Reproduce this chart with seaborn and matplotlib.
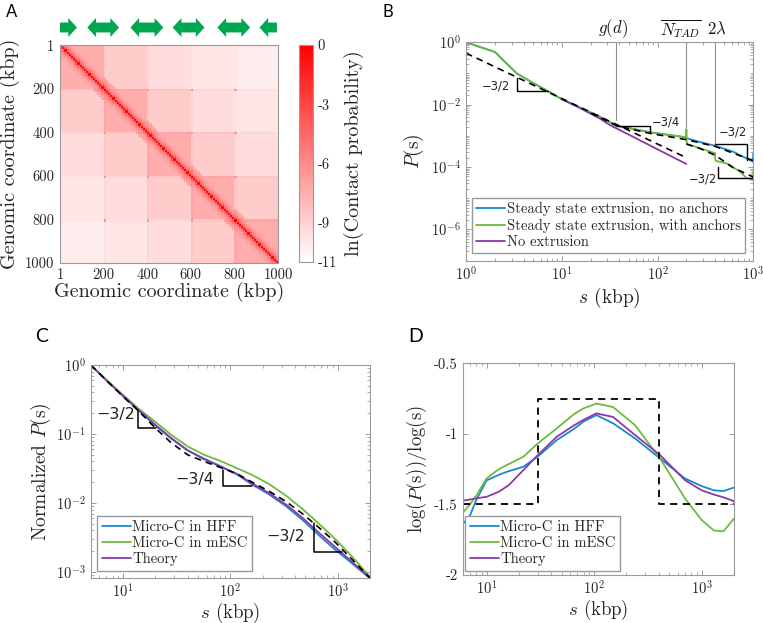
import numpy as np
import pandas as pd
import seaborn as sns
import matplotlib.pyplot as plt
from matplotlib.colors import LinearSegmentedColormap
from matplotlib.patches import Polygon
from matplotlib.ticker import LogLocator, NullFormatter

W, H = 763, 623

# ---------------- panel A : contact map (10 kbp bins) ----------------
tad_edges = [0, 200, 400, 600, 800, 1000]
block_ln = [-7.4, -8.8, -9.5, -9.9, -10.2]          # by TAD separation
diag_ln = [-0.5, -4.3, -5.7, -6.4, -6.9, -7.2]
corner_ln = -6.3
stripe_gain = 0.3
coord_ticks = [1, 200, 400, 600, 800, 1000]
cbar_ticks = [0, -3, -6, -9, -11]
arrow_start = [0, 125, 323, 517, 722, 915]
arrow_end = [78, 271, 474, 663, 872, 995]
arrow_kind = ["right", "both", "both", "both", "both", "left"]

# ---------------- panel B : P(s) simulations ----------------
b_s = [1, 2, 3.4, 5, 7.2, 10, 15, 25, 37.5, 60, 83.5, 130, 199]
b_shared = [1.0, 0.49, 0.10, 0.050, 0.027, 0.0150, 0.0085, 0.0041, 0.0021,
            0.0016, 0.0013, 0.00108, 0.00090]
b_s_noanchor = [200, 280, 400, 618, 850, 990, 1000]
b_noanchor = [0.00085, 0.00063, 0.00048, 0.00031, 0.00019, 0.00015, 0.00027]
b_s_anchor = [200, 202, 280, 399, 400, 402, 530, 730, 850, 990, 1000]
b_anchor = [0.0016, 0.00055, 0.00040, 0.00028, 0.00017, 0.00016, 0.00013,
            7.1e-5, 4.4e-5, 4.1e-5, 7.0e-5]
b_s_noext = [10, 15, 25, 32, 60, 100, 200]
b_noext = [0.0150, 0.0082, 0.0036, 0.0022, 0.00083, 0.00037, 0.000126]
b_s_fit1 = [1, 200]
b_fit1 = [0.45, 0.0002]
b_s_fit2 = [20, 37.5, 83.5, 200, 400, 1000]
b_fit2 = [0.0054, 0.0021, 0.0012, 0.00076, 0.00046, 0.00016]
b_s_fit3 = [200, 280, 400, 618, 1000]
b_fit3 = [0.00055, 0.00039, 0.00024, 0.000095, 0.000048]
b_marks = [37, 200, 400]
b_mark_ends = [0.0032, 0.0016, 0.00055]
b_mark_x = [34.4, 175, 417]
b_mark_text = [r"$g(d)$", r"$\overline{N_{TAD}}$", r"$2\lambda$"]

# ---------------- panel C : normalized P(s) ----------------
c_s = [5, 7, 10, 14, 20, 28, 40, 57, 80, 115, 160, 230, 330, 470, 670, 950, 1350, 2000]
c_hff = [1.0, 0.60, 0.355, 0.220, 0.133, 0.086, 0.058, 0.044, 0.0345, 0.026,
         0.0185, 0.0133, 0.0090, 0.0057, 0.0034, 0.0021, 0.00135, 0.00081]
c_mesc = [1.0, 0.61, 0.37, 0.232, 0.150, 0.098, 0.066, 0.050, 0.041, 0.032,
          0.0255, 0.0188, 0.0128, 0.0082, 0.0050, 0.0030, 0.0017, 0.00085]
c_theory = [1.0, 0.60, 0.355, 0.222, 0.136, 0.088, 0.058, 0.043, 0.034, 0.0265,
            0.0192, 0.0139, 0.0095, 0.0061, 0.0037, 0.0023, 0.00142, 0.00082]
c_fit = [1.0, 0.60, 0.35, 0.215, 0.122, 0.075, 0.050, 0.040, 0.0330, 0.0265,
         0.0200, 0.0148, 0.0105, 0.0070, 0.0044, 0.0027, 0.00155, 0.00082]

# ---------------- panel D : local slope ----------------
d_s = [6, 7, 8, 10, 13, 16, 22, 30, 45, 65, 80, 105, 150, 240, 410, 700, 1000, 1300, 1600, 2000]
d_hff = [-1.64, -1.58, -1.47, -1.33, -1.29, -1.265, -1.233, -1.16, -1.044, -0.965,
         -0.912, -0.867, -0.925, -1.032, -1.174, -1.316, -1.37, -1.40, -1.405, -1.38]
d_mesc = [-1.56, -1.50, -1.44, -1.316, -1.25, -1.215, -1.162, -1.067, -0.961, -0.86,
          -0.819, -0.785, -0.81, -0.938, -1.174, -1.457, -1.61, -1.685, -1.69, -1.60]
d_theory = [-1.474, -1.465, -1.457, -1.446, -1.41, -1.365, -1.257, -1.15, -1.02, -0.94,
            -0.90, -0.855, -0.88, -1.008, -1.15, -1.328, -1.40, -1.43, -1.45, -1.477]
d_step_s = [6, 30, 30, 400, 400, 2000]
d_step = [-1.5, -1.5, -0.75, -0.75, -1.5, -1.5]

BLUE, GREEN, PURPLE = "#1a86d0", "#6dbb3c", "#8a3aa8"
SPINE, TICKC = "#9a9a9a", "#262626"

sns.set_style("ticks")
plt.rcParams["font.family"] = "serif"
plt.rcParams["font.serif"] = ["cmr10"]
plt.rcParams["mathtext.fontset"] = "cm"
plt.rcParams["axes.formatter.use_mathtext"] = True
plt.rcParams["axes.unicode_minus"] = True

fig = plt.figure(figsize=(W / 100, H / 100), dpi=100)


def px_axes(x0, y0, x1, y1):
    return fig.add_axes([x0 / W, 1 - y1 / H, (x1 - x0) / W, (y1 - y0) / H])


def style_box(ax):
    for sp in ax.spines.values():
        sp.set_visible(True)
        sp.set_color(SPINE)
        sp.set_linewidth(0.8)
    ax.tick_params(which="both", direction="in", top=True, right=True,
                   color="#8a8a8a", labelcolor=TICKC, labelsize=10.5)
    ax.tick_params(which="major", length=3.5, width=0.6)
    ax.tick_params(which="minor", length=2, width=0.5)


def line(ax, x, y, **kw):
    sns.lineplot(x=x, y=y, ax=ax, estimator=None, sort=False, **kw)


def legend(ax, anchor, fs):
    ax.legend(loc="lower left", bbox_to_anchor=anchor, fontsize=fs, frameon=True,
              fancybox=False, edgecolor=SPINE, framealpha=1, borderpad=0.3,
              handlelength=2.0, handletextpad=0.1, labelspacing=0.15, borderaxespad=0)


# ---------------- A ----------------
bin_kbp = 10
nb = tad_edges[-1] // bin_kbp
idx = np.arange(nb)
tad_id = np.searchsorted(np.array(tad_edges[1:]) // bin_kbp, idx, side="right")
sep = np.abs(tad_id[:, None] - tad_id[None, :])
contact = np.array(block_ln)[sep]
dist = np.abs(idx[:, None] - idx[None, :])
near = dist < len(diag_ln)
contact[near] = np.maximum(contact[near], np.array(diag_ln)[dist[near]])
bounds = [e // bin_kbp for e in tad_edges[1:-1]]
for b in bounds:
    contact[b, :] += stripe_gain
    contact[:, b] += stripe_gain
for b1 in bounds:
    for b2 in bounds:
        if b1 != b2:
            contact[b1, b2] = max(contact[b1, b2], corner_ln)
contact = np.clip(contact, -11, 0)

axA = px_axes(60, 45, 278, 263)
caxA = px_axes(299, 45, 313, 262)
cmap = LinearSegmentedColormap.from_list("wr", ["#ffffff", "#ff0000"])
sns.heatmap(contact, ax=axA, cmap=cmap, vmin=-11, vmax=0, cbar_ax=caxA,
            xticklabels=False, yticklabels=False)
axA.set_xticks([c / bin_kbp for c in coord_ticks])
axA.set_xticklabels([str(c) for c in coord_ticks])
axA.set_yticks([c / bin_kbp for c in coord_ticks])
axA.set_yticklabels([str(c) for c in coord_ticks], rotation=0)
for sp in axA.spines.values():
    sp.set_visible(True)
    sp.set_color(SPINE)
    sp.set_linewidth(0.8)
axA.tick_params(length=0, labelsize=10.5, labelcolor=TICKC, pad=4)
axA.set_xlabel("Genomic coordinate (kbp)", fontsize=14.5, color=TICKC)
axA.xaxis.set_label_coords(0.5, -0.085)
axA.set_ylabel("Genomic coordinate (kbp)", fontsize=14.5, color=TICKC)
axA.yaxis.set_label_coords(-0.185, 0.5)
cb = axA.collections[0].colorbar
cb.set_ticks(cbar_ticks)
cb.set_ticklabels([str(t) for t in cbar_ticks])
cb.outline.set_edgecolor(SPINE)
cb.outline.set_linewidth(0.8)
caxA.tick_params(direction="in", length=3, width=0.6, color="#8a8a8a",
                 labelsize=10.5, labelcolor=TICKC)
cb.set_label("ln(Contact probability)", fontsize=14.5, color=TICKC, labelpad=5)

axArr = px_axes(60, 18, 278, 37)
axArr.set_xlim(0, 1000)
axArr.set_ylim(0, 1)
axArr.axis("off")
head, b0, b1 = 40, 0.24, 0.76
for x0, x1, kind in zip(arrow_start, arrow_end, arrow_kind):
    if kind == "right":
        pts = [(x0, b0), (x1 - head, b0), (x1 - head, 0), (x1, 0.5),
               (x1 - head, 1), (x1 - head, b1), (x0, b1)]
    elif kind == "left":
        pts = [(x1, b0), (x0 + head, b0), (x0 + head, 0), (x0, 0.5),
               (x0 + head, 1), (x0 + head, b1), (x1, b1)]
    else:
        pts = [(x0, 0.5), (x0 + head, 1), (x0 + head, b1), (x1 - head, b1),
               (x1 - head, 1), (x1, 0.5), (x1 - head, 0), (x1 - head, b0),
               (x0 + head, b0), (x0 + head, 0)]
    axArr.add_patch(Polygon(pts, closed=True, color="#00a650", lw=0))

# ---------------- B ----------------
axB = px_axes(466, 42.3, 753.3, 260.7)
axB.set_xscale("log")
axB.set_yscale("log")
for xm, ym in zip(b_marks, b_mark_ends):
    axB.plot([xm, xm], [ym, 1], color="#8f8f8f", lw=0.8, zorder=1)
line(axB, b_s + b_s_noanchor, b_shared + b_noanchor, color=BLUE, lw=1.3,
     label="Steady state extrusion, no anchors")
line(axB, b_s + b_s_anchor, b_shared + b_anchor, color=GREEN, lw=1.3,
     label="Steady state extrusion, with anchors")
line(axB, b_s_noext, b_noext, color=PURPLE, lw=1.3, label="No extrusion")
for xs, ys in [(b_s_fit1, b_fit1), (b_s_fit2, b_fit2), (b_s_fit3, b_fit3)]:
    line(axB, xs, ys, color="black", lw=1.2, linestyle=(0, (4, 3)))
for tx, ty in [([3.44, 3.44, 7.2], [0.072, 0.027, 0.027]),
               ([37.5, 83.5, 83.5], [0.0021, 0.0021, 0.00126]),
               ([400, 850, 850], [0.00055, 0.00055, 0.00017]),
               ([433, 433, 1000], [0.0001, 4.4e-5, 4.4e-5])]:
    axB.plot(tx, ty, color="black", lw=1.0)
for x, y, lab, ha in [(2.88, 0.041, "\u22123/2", "right"), (87, 0.0027, "\u22123/4", "left"),
                      (433, 0.00129, "\u22123/2", "left"), (417, 4.2e-5, "\u22123/2", "right")]:
    axB.text(x, y, lab, ha=ha, va="center", fontsize=8.3, family="DejaVu Sans", color="#222222")
for xm, txt in zip(b_mark_x, b_mark_text):
    axB.text(xm, 1.061, txt, transform=axB.get_xaxis_transform(), ha="center",
             va="center", fontsize=12, color="#111111")
axB.set_xlim(1, 1000)
axB.set_ylim(1e-7, 1)
axB.set_yticks([1e-6, 1e-4, 1e-2, 1])
axB.yaxis.set_minor_locator(LogLocator(base=10, subs=np.arange(1, 10), numticks=30))
axB.yaxis.set_minor_formatter(NullFormatter())
style_box(axB)
axB.set_xlabel(r"$s$ (kbp)", fontsize=14, color=TICKC, labelpad=2)
axB.set_ylabel(r"$P(\mathrm{s})$", fontsize=14, color=TICKC, labelpad=4)
legend(axB, (0.02, 0.035), 10.5)

# ---------------- C ----------------
axC = px_axes(90.7, 365, 370, 578)
axC.set_xscale("log")
axC.set_yscale("log")
line(axC, c_s, c_hff, color=BLUE, lw=1.3, label="Micro-C in HFF")
line(axC, c_s, c_mesc, color=GREEN, lw=1.3, label="Micro-C in mESC")
line(axC, c_s, c_theory, color=PURPLE, lw=1.3, label="Theory")
line(axC, c_s, c_fit, color="black", lw=1.2, linestyle=(0, (4, 3)))
for tx, ty in [([13.7, 13.7, 20.1], [0.223, 0.121, 0.121]),
               ([85.6, 85.6, 160], [0.030, 0.0176, 0.0176]),
               ([603, 603, 1100], [0.0051, 0.00197, 0.00197])]:
    axC.plot(tx, ty, color="black", lw=1.1)
for x, y, lab in [(13.1, 0.194, "\u22123/2"), (70.5, 0.0218, "\u22123/4"),
                  (497, 0.0033, "\u22123/2")]:
    axC.text(x, y, lab, ha="right", va="center", fontsize=11.5, family="DejaVu Sans", color="#222222")
axC.set_xlim(5, 2000)
axC.set_ylim(8.2e-4, 1)
axC.set_yticks([1e-3, 1e-2, 1e-1, 1])
axC.yaxis.set_minor_locator(LogLocator(base=10, subs=np.arange(1, 10), numticks=30))
axC.yaxis.set_minor_formatter(NullFormatter())
style_box(axC)
axC.set_xlabel(r"$s$ (kbp)", fontsize=13.5, color=TICKC)
axC.xaxis.set_label_coords(0.5, -0.105)
axC.set_ylabel(r"Normalized $P(\mathrm{s})$", fontsize=14, color=TICKC, labelpad=2)
legend(axC, (0.024, 0.034), 10.5)

# ---------------- D ----------------
axD = px_axes(462.7, 363.3, 734, 575)
axD.set_xscale("log")
line(axD, d_s, d_hff, color=BLUE, lw=1.3, label="Micro-C in HFF")
line(axD, d_s, d_mesc, color=GREEN, lw=1.3, label="Micro-C in mESC")
line(axD, d_s, d_theory, color=PURPLE, lw=1.3, label="Theory")
line(axD, d_step_s, d_step, color="black", lw=1.3, linestyle=(0, (4, 3)))
axD.set_xlim(6, 2000)
axD.set_ylim(-2, -0.5)
axD.set_yticks([-2, -1.5, -1, -0.5])
axD.set_yticklabels(["-2", "-1.5", "-1", "-0.5"])
style_box(axD)
axD.set_xlabel(r"$s$ (kbp)", fontsize=13.5, color=TICKC)
axD.xaxis.set_label_coords(0.5, -0.11)
axD.set_ylabel(r"$\log(P(\mathrm{s}))/\log(\mathrm{s})$", fontsize=13.5, color=TICKC, labelpad=4)
legend(axD, (0.01, 0.02), 10.5)

# panel letters
for x, y, s, fs in [(6, 4, "A", 12), (383, 4, "B", 12), (35, 328, "C", 14), (408, 328, "D", 14)]:
    fig.text(x / W, 1 - y / H, s, ha="left", va="top", fontsize=fs, family="Lato", color="black")

fig.savefig("out.png", dpi=100)
